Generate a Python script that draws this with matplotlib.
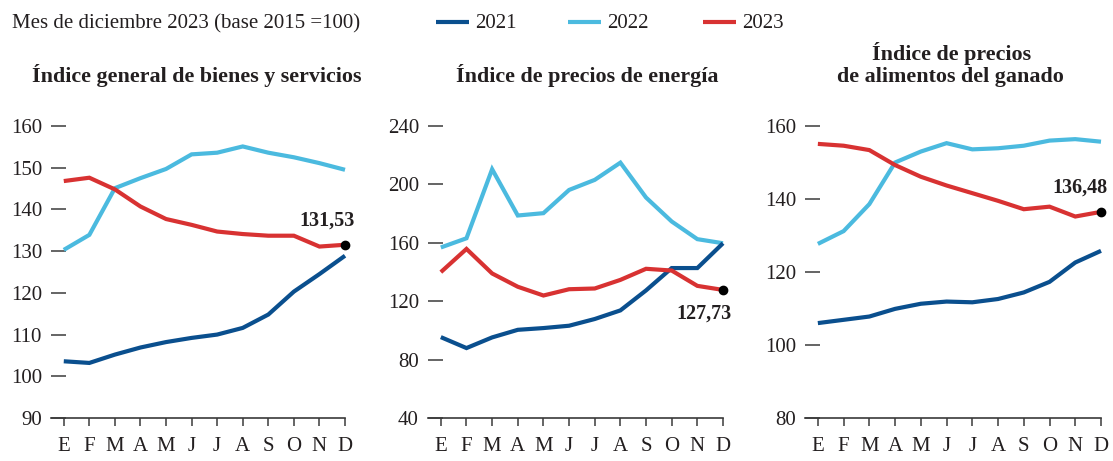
import matplotlib.pyplot as plt

plt.rcParams['font.family'] = ['Liberation Serif', 'DejaVu Serif']

# Month initials (Spanish)
meses = ['E', 'F', 'M', 'A', 'M', 'J', 'J', 'A', 'S', 'O', 'N', 'D']

# Índice general de bienes y servicios
general_2021 = [103.6, 103.2, 105.2, 106.9, 108.2, 109.2, 110.0, 111.6, 114.8, 120.3, 124.5, 128.9]
general_2022 = [130.3, 133.9, 145.1, 147.5, 149.7, 153.2, 153.6, 155.1, 153.6, 152.5, 151.1, 149.5]
general_2023 = [146.8, 147.6, 144.8, 140.7, 137.7, 136.3, 134.7, 134.1, 133.7, 133.7, 131.1, 131.53]

# Índice de precios de energía
energia_2021 = [95.4, 87.9, 95.2, 100.4, 101.6, 103.2, 107.8, 113.7, 127.4, 142.7, 142.7, 159.7]
energia_2022 = [156.8, 163.1, 210.4, 178.7, 180.3, 196.2, 203.1, 214.9, 191.0, 174.6, 162.5, 159.7]
energia_2023 = [139.9, 155.8, 139.0, 129.9, 123.9, 128.2, 128.7, 134.6, 142.2, 141.0, 130.5, 127.73]

# Índice de precios de alimentos del ganado
ganado_2021 = [106.0, 106.9, 107.8, 109.9, 111.3, 111.9, 111.7, 112.6, 114.4, 117.3, 122.6, 125.8]
ganado_2022 = [127.7, 131.2, 138.6, 150.0, 153.0, 155.3, 153.6, 153.9, 154.6, 156.0, 156.4, 155.7]
ganado_2023 = [155.1, 154.6, 153.4, 149.3, 146.1, 143.7, 141.6, 139.5, 137.2, 137.9, 135.2, 136.48]

ultimo_general = '131,53'
ultimo_energia = '127,73'
ultimo_ganado = '136,48'

yticks_general = [90, 100, 110, 120, 130, 140, 150, 160]
yticks_energia = [40, 80, 120, 160, 200, 240]
yticks_ganado = [80, 100, 120, 140, 160]

c2021 = '#0a4f8e'
c2022 = '#4bbadf'
c2023 = '#d83232'
txt = '#231f20'
gris = '#3a3a3a'

W, H = 1113, 461
fig = plt.figure(figsize=(W / 100, H / 100), dpi=100)

x = list(range(12))

def panel(left_px, width_px, s21, s22, s23, yticks, etiqueta, dx, dy, va):
    ax = fig.add_axes([left_px / W, 43 / H, width_px / W, (418 - 126) / H])
    ax.plot(x, s22, color=c2022, lw=3, solid_capstyle='butt', solid_joinstyle='miter', clip_on=False)
    ax.plot(x, s21, color=c2021, lw=3, solid_capstyle='butt', solid_joinstyle='miter', clip_on=False)
    ax.plot(x, s23, color=c2023, lw=3, solid_capstyle='butt', solid_joinstyle='miter', clip_on=False)
    ax.plot(x[-1], s23[-1], 'o', color='black', ms=6, clip_on=False, zorder=5)
    ax.annotate(etiqueta, (x[-1], s23[-1]), xytext=(dx, dy), textcoords='offset points',
                ha='right', va=va, fontsize=14.5, fontweight='bold', color=txt)
    ax.set_xlim(-0.5, 11)
    ax.set_ylim(yticks[0], yticks[-1])
    ax.set_yticks(yticks)
    ax.set_xticks(x)
    ax.set_xticklabels(meses)
    for s in ['top', 'right', 'left']:
        ax.spines[s].set_visible(False)
    ax.spines['bottom'].set_color(gris)
    ax.spines['bottom'].set_linewidth(1.2)
    ax.tick_params(axis='y', direction='in', length=10.8, width=1.1, color=gris,
                   pad=6.5, labelsize=15, labelcolor=txt)
    ax.tick_params(axis='x', direction='out', length=5.8, width=1.1, color=gris,
                   pad=8, labelsize=15, labelcolor=txt)
    ax.patch.set_alpha(0)
    return ax

panel(51, 294, general_2021, general_2022, general_2023, yticks_general,
      ultimo_general, 7, 10, 'bottom')
panel(428, 295, energia_2021, energia_2022, energia_2023, yticks_energia,
      ultimo_energia, 6.5, -10, 'top')
panel(805, 296, ganado_2021, ganado_2022, ganado_2023, yticks_ganado,
      ultimo_ganado, 5, 10, 'bottom')

# Titles
tit = dict(ha='center', va='baseline', fontsize=15.8, fontweight='bold', color=txt)
fig.text(197 / W, 1 - 82 / H, 'Índice general de bienes y servicios', **tit)
fig.text(587 / W, 1 - 82 / H, 'Índice de precios de energía', **tit)
fig.text(952 / W, 1 - 60 / H, 'Índice de precios', **tit)
fig.text(950 / W, 1 - 82 / H, 'de alimentos del ganado', **tit)

# Header and legend
fig.text(12 / W, 1 - 28 / H, 'Mes de diciembre 2023 (base 2015 =100)', ha='left',
         va='baseline', fontsize=15, color=txt)
for x0, col, lab in [(436, c2021, '2021'), (568, c2022, '2022'), (703, c2023, '2023')]:
    fig.add_artist(plt.Line2D([x0 / W, (x0 + 33) / W], [1 - 22 / H, 1 - 22 / H],
                              color=col, lw=3, solid_capstyle='butt'))
    fig.text((x0 + 39) / W, 1 - 28 / H, lab, ha='left', va='baseline', fontsize=15, color=txt)

fig.savefig('out.png', dpi=100)
